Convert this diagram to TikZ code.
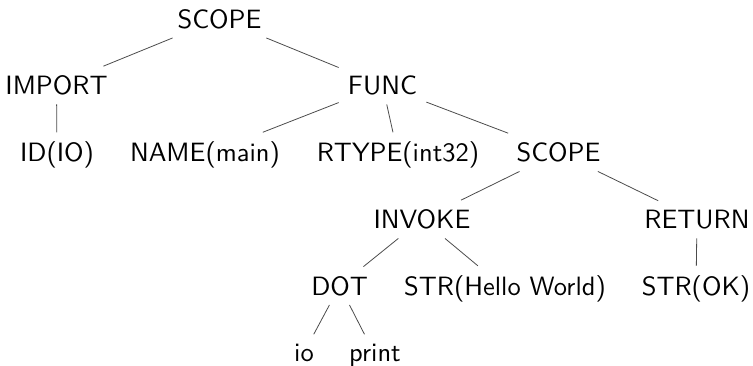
\documentclass[tikz,border=0pt]{standalone}
\usepackage{tikz}

\tikzset{
  tn/.style={anchor=base, inner sep=.3333em, scale=2.65,
             font=\sffamily\fontsize{10}{12}\selectfont},
  edge/.style={draw=black!70, line width=0.8pt}
}

\begin{document}
\begin{tikzpicture}[x=1pt, y=-1pt]
  \useasboundingbox (0,0) rectangle (753,365);

  % level 0
  \node[tn] (root)   at (219.5, 28)  {SCOPE};
  % level 1
  \node[tn] (import) at (56.5, 94.5) {IMPORT};
  \node[tn] (func)   at (382.5, 94.5) {FUNC};
  % level 2
  \node[tn] (id)     at (57, 161.5)  {ID(IO)};
  \node[tn] (name)   at (205, 161.5) {NAME(main)};
  \node[tn] (rtype)  at (398, 161.5) {RTYPE(int32)};
  \node[tn] (scope)  at (558.5, 161.5) {SCOPE};
  % level 3
  \node[tn] (invoke) at (422, 228.5) {INVOKE};
  \node[tn] (return) at (697, 228.5) {RETURN};
  % level 4
  \node[tn] (dot)    at (339.7, 295) {DOT};
  \node[tn] (hello)  at (505, 295)   {STR(Hello World)};
  \node[tn] (ok)     at (696, 295)   {STR(OK)};
  % level 5
  \node[tn] (io)     at (304, 361)   {io};
  \node[tn] (print)  at (375, 361)   {print};

  % edges
  \draw[edge] (root) -- (import);
  \draw[edge] (root) -- (func);
  \draw[edge] (import) -- (id);
  \draw[edge] (func) -- (name);
  \draw[edge] (func) -- (rtype);
  \draw[edge] (func) -- (scope);
  \draw[edge] (scope) -- (invoke);
  \draw[edge] (scope) -- (return);
  \draw[edge] (invoke) -- (dot);
  \draw[edge] (invoke) -- (hello);
  \draw[edge] (return) -- (ok);
  \draw[edge] (dot) -- (io);
  \draw[edge] (dot) -- (print);
\end{tikzpicture}
\end{document}
